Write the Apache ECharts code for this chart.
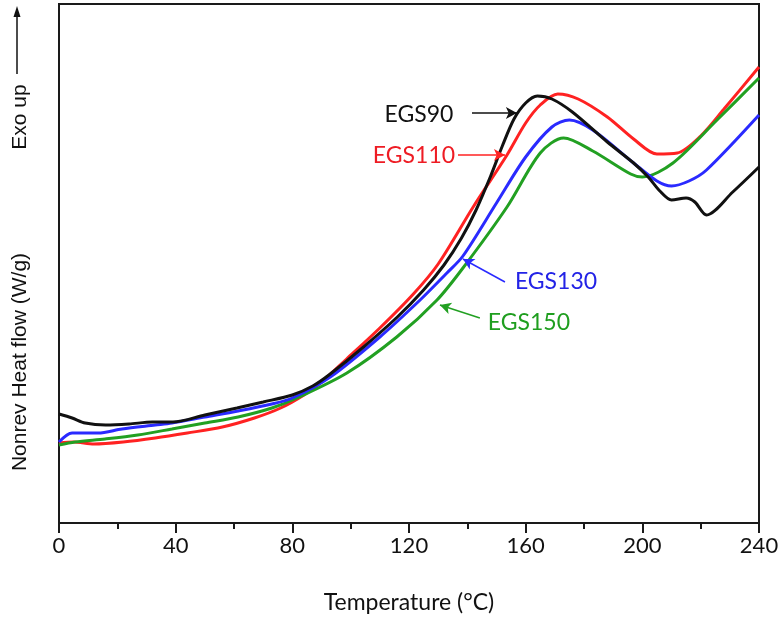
<!DOCTYPE html>
<html>
<head>
<meta charset="utf-8">
<script src="https://cdn.jsdelivr.net/npm/echarts@6/dist/echarts.min.js"></script>
<style>
html,body{margin:0;padding:0;background:#fff;}
#c{width:783px;height:622px;}
</style>
</head>
<body>
<div id="c"></div>
<script>
// Temperature (°C) vs. non-reversing heat flow (arbitrary units, exo up)
var xTicks = [0, 40, 80, 120, 160, 200, 240];

var egs90 = [[0,109],[4.5,105],[9,100],[16,98],[24,99],[32,101],[39,101],[50,108],[61,115],[70,121],[80,128],[87,137],[93,149],[104,175],[116,206],[125,233],[132,258],[138,285],[143,313],[148,347],[152,377],[156,404],[160,420],[164,427],[169,424],[176,411],[188,381],[197,360],[202,346],[206,332],[210,323],[215,325],[218,321],[222,308],[231,331],[240,356]];

var egs110 = [[0,80],[5,81],[12,79],[22,81],[33,85],[44,90],[56,96],[67,105],[76,115],[84,128],[90,141],[98.6,164],[110,195],[121.5,229],[130,259],[142,316],[153.6,368],[160,400],[165,418],[171,429],[178,424],[188,406],[197,384],[205,369],[212,370],[220,387],[228,414],[240,456]];

var egs130 = [[0,81],[4.5,90],[10,90],[13.4,90],[21.6,94],[33,98],[38.7,100],[50,106],[61.4,112],[73,119],[80,125],[93,146],[110,186],[123.8,223],[133,250],[138.5,267],[150,320],[160,366],[169,396],[175,403],[183,393],[197,360],[205,342],[210,337],[216,342],[222,353],[240,408]];

var egs150 = [[0,78],[5.5,81],[15.8,84],[27,88],[38.7,94],[50,100],[61.4,106],[73,115],[81.6,125],[98.7,150],[115.8,186],[129.6,223],[138.5,255],[153.6,316],[165,370],[173,385],[183,372],[196,349],[200,346],[210.5,360],[225.6,403],[240,445]];

var seriesNames = ['EGS90', 'EGS110', 'EGS130', 'EGS150'];
var seriesColors = ['#111111', '#ff2222', '#2a2aff', '#22a022'];
var textColors = ['#111111', '#ee1c24', '#2323e6', '#1f9e1f'];
var seriesData = [egs90, egs110, egs130, egs150];

// annotation arrows: [start, end] in data coordinates
var arrows = [
  [[141.6,410],[157,410]],
  [[136.8,368],[152.9,368]],
  [[152.9,241],[138.5,264]],
  [[144.3,205],[130.6,218]]
];
// annotation label anchors in data coordinates (text center)
var labelPos = [[123.4,408],[121.7,367],[170.4,241],[161.1,200]];

var chart = echarts.init(document.getElementById('c'), null, {renderer:'canvas'});

var series = [];
var order = [1, 3, 2, 0];
order.forEach(function(i){
  series.push({
    name: seriesNames[i],
    type: 'line',
    data: seriesData[i],
    showSymbol: false,
    smooth: 0.3,
    lineStyle: {color: seriesColors[i], width: 3},
    itemStyle: {color: seriesColors[i]},
    z: 2,
    markLine: {
      silent: true,
      symbol: ['none', 'arrow'],
      symbolSize: [9, 11],
      lineStyle: {color: seriesColors[i], width: 1.5, type: 'solid'},
      label: {show: false},
      data: [[{coord: arrows[i][0]}, {coord: arrows[i][1]}]]
    },
    markPoint: {
      silent: true,
      symbol: 'circle',
      symbolSize: 0,
      label: {
        show: true,
        position: 'inside',
        formatter: seriesNames[i],
        color: textColors[i],
        fontFamily: 'Lato',
        fontSize: 23
      },
      data: [{coord: labelPos[i]}]
    }
  });
});

chart.setOption({
  animation: false,
  backgroundColor: '#ffffff',
  grid: {left: 59, right: 24, top: 4, bottom: 99, show: true, borderColor: '#1a1a1a', borderWidth: 2, backgroundColor: 'transparent'},
  xAxis: {
    type: 'value',
    min: 0, max: 240, interval: 40,
    name: 'Temperature (°C)',
    nameLocation: 'middle',
    nameGap: 68,
    nameTextStyle: {fontFamily: 'Lato', fontSize: 23, color: '#111'},
    axisLine: {show: true, onZero: false, lineStyle: {color: '#1a1a1a', width: 2}},
    axisTick: {show: true, inside: false, length: 10, lineStyle: {color: '#1a1a1a', width: 2}},
    minorTick: {show: true, splitNumber: 2, length: 6, lineStyle: {color: '#1a1a1a', width: 2}},
    axisLabel: {fontFamily: 'Lato', fontSize: 22, color: '#111', margin: 12,
      formatter: function(v){ return xTicks.indexOf(v) >= 0 ? String(v) : ''; }},
    splitLine: {show: false}
  },
  yAxis: {
    type: 'value',
    min: 0, max: 519,
    axisLine: {show: true, lineStyle: {color: '#1a1a1a', width: 2}},
    axisTick: {show: false},
    axisLabel: {show: false},
    splitLine: {show: false}
  },
  graphic: [
    {type: 'text', rotation: Math.PI/2, position: [20, 362],
      style: {text: 'Nonrev Heat flow (W/g)', fontFamily: 'Liberation Sans', fontSize: 21, fill: '#111', align: 'center', verticalAlign: 'middle'}},
    {type: 'text', rotation: Math.PI/2, position: [20, 117],
      style: {text: 'Exo up', fontFamily: 'Liberation Sans', fontSize: 21, fill: '#111', align: 'center', verticalAlign: 'middle'}},
    {type: 'line', shape: {x1: 17, y1: 74, x2: 17, y2: 14}, style: {stroke: '#111', lineWidth: 1.5}},
    {type: 'polygon', shape: {points: [[17, 6], [13.5, 17], [20.5, 17]]}, style: {fill: '#111'}}
  ],
  series: series
});
</script>
</body>
</html>
